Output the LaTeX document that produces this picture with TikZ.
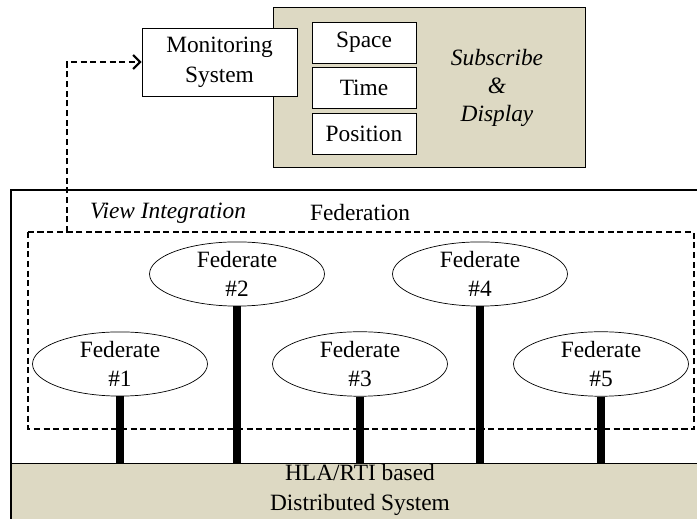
\documentclass[tikz,border=0pt]{standalone}
\usepackage{fontspec}
\setmainfont{Liberation Serif}
\usepackage{tikz}
\usetikzlibrary{arrows}
\usetikzlibrary{arrows.meta}
\usetikzlibrary{shapes.geometric}
\definecolor{tan}{RGB}{221,217,195}
\def\fedw{3.5cm}
\def\fedh{1.28cm}

\begin{document}
\begin{tikzpicture}[x=0.02cm,y=-0.02cm,font=\fontsize{13.3}{16.6}\selectfont,
  fed/.style={draw,ellipse,fill=white,minimum width=\fedw,minimum height=\fedh,inner sep=0pt,align=center},
  cell/.style={draw,fill=white,minimum width=2.08cm,minimum height=0.82cm,inner sep=0pt},
  bar/.style={line width=4.6pt},
  dashline/.style={line width=1.2pt,dash pattern=on 3.5pt off 2pt}]
\useasboundingbox (0,0) rectangle (697,519);
\clip (0,0) rectangle (697,519);
% federation frame and RTI band
\draw[line width=1.2pt] (11,540) -- (11,190) -- (720,190);
\draw[] (11,463) node[draw,fill=tan,anchor=north west,minimum width=14.2cm,minimum height=1.4cm,inner sep=0pt] (hla) {};
\draw[line width=1.2pt] (11,463) -- (11,540);
\draw[] (360,490) node[align=center,font=\fontsize{13.3}{17.5}\selectfont] (hlatext) {HLA/RTI based\\Distributed System};
\draw[] (360,213) node[] (fedlabel) {Federation};
\draw[dashline] (28,232) rectangle (694,429);
\draw[] (168,213) node[] (vilabel) {\itshape View Integration};
% subscriber side
\draw[] (429,87) node[draw,fill=tan,minimum width=6.24cm,minimum height=3.2cm] (sub) {};
\draw[] (364,42.5) node[cell] (space) {Space};
\draw[] (364,88) node[cell] (time) {Time};
\draw[] (364,133.5) node[cell] (pos) {Position};
\draw[] (497,88) node[align=center,font=\fontsize{13.3}{16}\selectfont\itshape] (subtext) {Subscribe\\\&\\Display};
\draw[] (219.5,62) node[draw,fill=white,minimum width=3.1cm,minimum height=1.36cm,align=center,font=\fontsize{13.3}{17}\selectfont] (mon) {Monitoring\\System};
\coordinate (tap) at (67,232);
\draw[dashline,-{Straight Barb[length=4pt,width=8pt]}] (tap) |- (mon.west);
% federates
\draw[] (120,364) node[fed] (fedA) {Federate\\\#1};
\draw[] (237,274) node[fed] (fedB) {Federate\\\#2};
\draw[] (360,364) node[fed] (fedC) {Federate\\\#3};
\draw[] (480,274) node[fed] (fedD) {Federate\\\#4};
\draw[] (601,364) node[fed] (fedE) {Federate\\\#5};
\foreach \f in {fedA,fedB,fedC,fedD,fedE}
  \draw[bar] (\f.south) -- (\f.south |- hla.north);
\end{tikzpicture}
\end{document}
